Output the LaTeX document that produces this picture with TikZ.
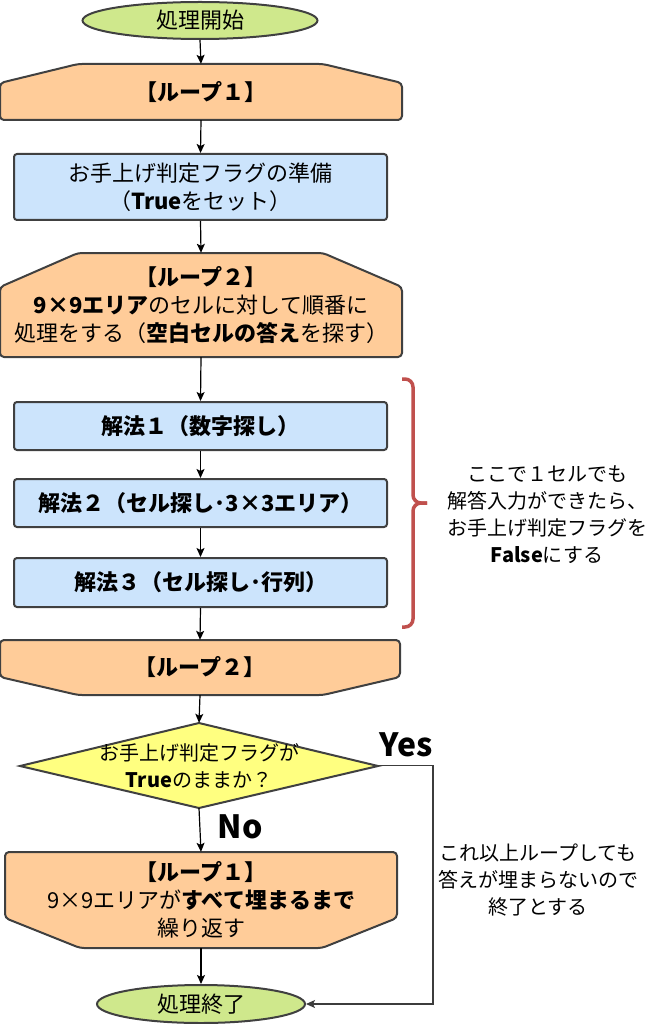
\documentclass[tikz,border=0pt]{standalone}
\usepackage{fontspec}
\setmainfont{Noto Sans CJK JP}
\usetikzlibrary{arrows.meta,shapes.geometric}
\definecolor{cgreen}{RGB}{207,232,140}
\definecolor{corange}{RGB}{255,204,153}
\definecolor{cblue}{RGB}{204,228,252}
\definecolor{cyellow}{RGB}{255,255,128}
\definecolor{cborder}{RGB}{64,64,64}
\definecolor{cbrace}{RGB}{192,80,77}
\definecolor{cyesline}{RGB}{60,60,60}
\begin{document}
\begin{tikzpicture}[x=1pt,y=-1pt,
  mainfont/.style={font=\fontsize{22}{28}\selectfont},
  smallfont/.style={font=\fontsize{20}{27}\selectfont},
  term/.style={ellipse, draw=cborder, fill=cgreen, line width=2pt, inner sep=0pt, mainfont},
  procbox/.style={rectangle, rounded corners=3pt, draw=cborder, fill=cblue, line width=2pt, inner sep=0pt, align=center, mainfont, minimum width=373pt},
  holder/.style={inner sep=0pt, align=center, mainfont},
  loopshape/.style={draw=cborder, fill=corange, line width=2pt, rounded corners=4pt, line join=round},
  decshape/.style={draw=cborder, fill=cyellow, line width=2pt, line join=miter},
  conn/.style={line width=1.2pt, draw=black, -{Stealth[length=9pt,width=8pt,inset=2pt]}},
  yesconn/.style={line width=1.2pt, draw=cyesline, -{Stealth[length=9pt,width=8pt,inset=2pt]}},
  note/.style={inner sep=0pt, align=center, smallfont},
  yn/.style={inner sep=0pt, font=\bfseries\fontsize{32}{32}\selectfont}
]
\useasboundingbox (0,0) rectangle (656,1024);

% shapes of the loop symbols and decision
\draw[loopshape] (0,120) -- (0,83) -- (78,64) -- (323,64) -- (402,83) -- (402,120) -- cycle;
\draw[loopshape] (0,357) -- (0,287) -- (78,253) -- (323,253) -- (402,287) -- (402,357) -- cycle;
\draw[loopshape] (0,640) -- (400,640) -- (400,677) -- (323,695) -- (78,695) -- (0,677) -- cycle;
\draw[loopshape] (5,852) -- (397,852) -- (397,918) -- (322,948) -- (80,948) -- (5,918) -- cycle;
\draw[decshape] (199,723) -- (378,766) -- (199,808) -- (20,766) -- cycle;

% nodes
\node[term, minimum width=235pt, minimum height=37pt] (start) at (200,20.5) {処理開始};
\node[holder, minimum width=402pt, minimum height=56pt] (L1) at (201,92) {\bfseries 【ループ１】};
\node[procbox, minimum height=66pt] (prep) at (200.5,187) {お手上げ判定フラグの準備\\（{\bfseries True}をセット）};
\node[holder, minimum width=402pt, minimum height=104pt] (L2) at (201,305) {{\bfseries 【ループ２】}\\{\bfseries 9×9エリア}のセルに対して順番に\\処理をする（{\bfseries 空白セルの答え}を探す）};
\node[procbox, minimum height=48pt] (s1) at (200.5,426) {\bfseries 解法１（数字探し）};
\node[procbox, minimum height=48pt] (s2) at (200.5,503) {\bfseries 解法２（セル探し･3×3エリア）};
\node[procbox, minimum height=49pt] (s3) at (200.5,582.5) {\bfseries 解法３（セル探し･行列）};
\node[holder, minimum width=400pt, minimum height=55pt] (L2e) at (200,667.5) {\bfseries 【ループ２】};
\node[holder, smallfont, minimum width=358pt, minimum height=85pt] (dec) at (199,765.5) {お手上げ判定フラグが\\{\bfseries True}のままか？};
\node[holder, minimum width=392pt, minimum height=96pt] (L1e) at (201,900) {{\bfseries 【ループ１】}\\9×9エリアが{\bfseries すべて埋まるまで}\\繰り返す};
\node[term, minimum width=208pt, minimum height=38pt] (end) at (201,1004) {処理終了};

% notes and labels
\node[note] (note1) at (547,515) {ここで１セルでも\\解答入力ができたら、\\お手上げ判定フラグを\\{\bfseries False}にする};
\node[note] (note2) at (538,880) {これ以上ループしても\\答えが埋まらないので\\終了とする};
\node[yn] (yes) at (406,745) {Yes};
\node[yn] (no) at (240,827) {No};

% brace
\draw[cbrace, line width=3.5pt, rounded corners=8pt] (402,379) -- (413,379) -- (413,503) -- (427,503);
\draw[cbrace, line width=3.5pt, rounded corners=8pt] (427,503) -- (413,503) -- (413,627) -- (402,627);

% connectors
\draw[conn] (start.south) -- (L1.north);
\draw[conn] (L1.south) -- (prep.north);
\draw[conn] (prep.south) -- (L2.north);
\draw[conn] (L2.south) -- (s1.north);
\draw[conn] (s1.south) -- (s2.north);
\draw[conn] (s2.south) -- (s3.north);
\draw[conn] (s3.south) -- (L2e.north);
\draw[conn] (L2e.south) -- (dec.north);
\draw[conn] (dec.south) -- (L1e.north);
\draw[conn] (L1e.south) -- (end.north);
\coordinate (ycorner) at (433,765.5);
\draw[yesconn] (dec.east) -- (ycorner) |- (end.east);
\end{tikzpicture}
\end{document}
